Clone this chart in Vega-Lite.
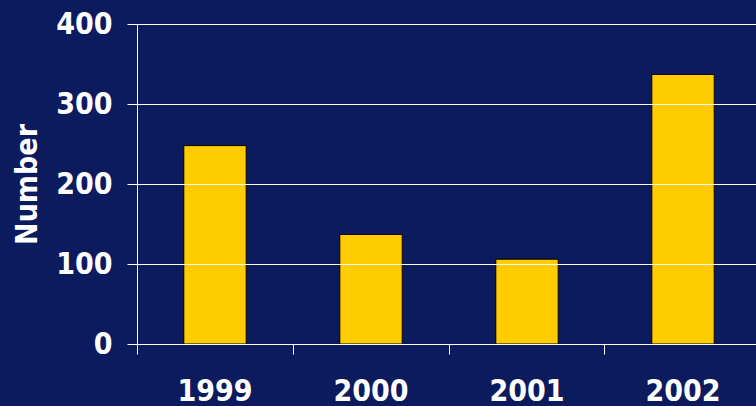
{
  "$schema": "https://vega.github.io/schema/vega-lite/v6.json",
  "width": 624,
  "height": 320,
  "padding": {"left": 12, "top": 9, "right": 0, "bottom": 0},
  "background": "#0c1a5e",
  "data": {"values": [
    {"year": "1999", "number": 248},
    {"year": "2000", "number": 137},
    {"year": "2001", "number": 106},
    {"year": "2002", "number": 337}
  ]},
  "mark": {"type": "bar", "color": "#FFCC00", "stroke": "#000000", "strokeWidth": 1},
  "encoding": {
    "x": {
      "field": "year", "type": "nominal", "sort": null,
      "scale": {"paddingInner": 0.6, "paddingOuter": 0.3},
      "axis": {"title": null, "labelAngle": 0, "labelPadding": 22, "tickSize": 10, "bandPosition": -0.75, "zindex": 1}
    },
    "y": {
      "field": "number", "type": "quantitative",
      "scale": {"domain": [0, 400], "nice": false},
      "axis": {"title": "Number", "values": [0, 100, 200, 300, 400], "tickSize": 10, "labelPadding": 15, "titlePadding": 13, "zindex": 1, "grid": true}
    }
  },
  "config": {
    "view": {"stroke": null},
    "axis": {
      "domainColor": "#ffffff", "domainWidth": 1,
      "tickColor": "#ffffff", "tickWidth": 1,
      "gridColor": "#ffffff", "gridWidth": 1, "gridOpacity": 1,
      "labelColor": "#ffffff", "labelFont": "DejaVu Sans Condensed", "labelFontWeight": "bold", "labelFontSize": 30,
      "titleColor": "#ffffff", "titleFont": "DejaVu Sans Condensed", "titleFontWeight": "bold", "titleFontSize": 30
    },
    "axisX": {"grid": false}
  }
}
